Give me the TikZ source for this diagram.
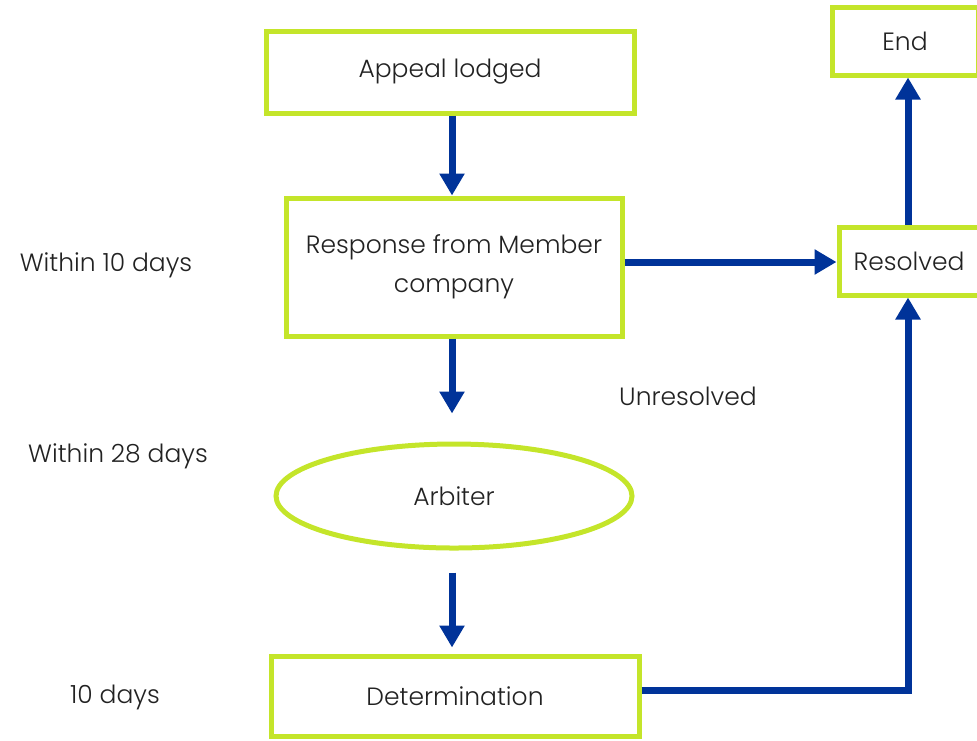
\documentclass[tikz,border=0pt]{standalone}
\usepackage{fontspec}
\setmainfont{Poppins Light}
\usetikzlibrary{shapes,arrows.meta,positioning}
\definecolor{lime}{HTML}{C4E52A}
\definecolor{navy}{HTML}{003399}
\definecolor{ink}{HTML}{222222}

\begin{document}
\begin{tikzpicture}[x=0.5pt,y=-0.5pt,% pixel grid of the reference
			every node/.style={
				align=center,		% so that "\\" breaks the line
				text=ink,
				font=\fontsize{12.5}{19.5}\selectfont
			},
			box/.style={rectangle,draw=lime,line width=2.5pt,fill=white,inner sep=0pt},
			flow/.style={draw=navy,line width=3.5pt,-{Triangle[length=11pt,width=12pt]}}
		]
		\useasboundingbox (0,0) rectangle (977,740);
		\node[box,minimum width=184pt,minimum height=41pt](appeal) at (450,72){Appeal lodged};
		\node[box,minimum width=168pt,minimum height=69pt](response) at (454,267){Response from Member \\ company};
		\node[ellipse,draw=lime,line width=2.5pt,minimum width=178pt,minimum height=52pt](arbiter) at (454,496){Arbiter};
		\node[box,minimum width=184pt,minimum height=40pt](determination) at (455,696){Determination};
		\node[box,minimum width=70pt,minimum height=34pt](resolved) at (909,261){Resolved};
		\node[box,minimum width=73pt,minimum height=34pt](end) at (905,41){End};
		% labels
		\node(ten) at (106,265){Within 10 days};
		\node(twentyeight) at (118,456){Within 28 days};
		\node(days) at (115,697){10 days};
		\node(unresolved) at (688,396){Unresolved};
		% arrow axes
		\coordinate(mid) at (452,0);
		\coordinate(side) at (908,0);
		\coordinate(level) at (0,262);
		\coordinate(bottom) at (0,690);
		% arrows
		\path[flow] (appeal.south -| mid) -- (response.north -| mid);
		\path[flow,shorten >=14pt] (response.south -| mid) -- (arbiter.north -| mid);
		\path[flow,shorten <=11pt,shorten >=3pt] (arbiter.south -| mid) -- (determination.north -| mid);
		\path[flow] (response.east |- level) -- (resolved.west |- level);
		\path[flow] (resolved.north -| side) -- (end.south -| side);
		\path[flow] (determination.east |- bottom) -| (resolved.south -| side);
	\end{tikzpicture}
\end{document}
